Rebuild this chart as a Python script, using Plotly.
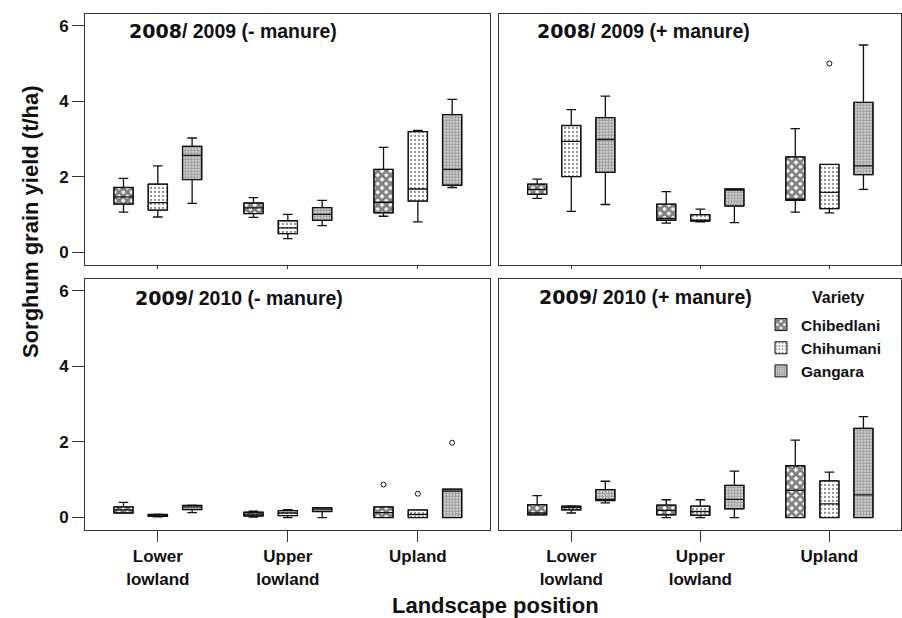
import plotly.graph_objects as go

# ---------------- data ----------------
landscapes = ["Lower lowland", "Upper lowland", "Upland"]
landscape_labels = ["<b>Lower<br>lowland</b>", "<b>Upper<br>lowland</b>", "<b>Upland</b>"]
varieties = ["Chibedlani", "Chihumani", "Gangara"]
panel_years = ["2008", "2008", "2009", "2009"]
panel_rest = ["/ 2009 (- manure)", "/ 2009 (+ manure)", "/ 2010 (- manure)", "/ 2010 (+ manure)"]
y_tick_vals = [0, 2, 4, 6]

# rows = variety (Chibedlani, Chihumani, Gangara); cols = landscape position
# Panel 1: 2008/2009 (- manure)
p1_lo = [[1.07, 0.93, 0.96], [0.94, 0.37, 0.81], [1.30, 0.71, 1.72]]
p1_q1 = [[1.28, 1.03, 1.05], [1.12, 0.50, 1.36], [1.93, 0.85, 1.78]]
p1_med = [[1.47, 1.18, 1.33], [1.32, 0.65, 1.68], [2.57, 1.01, 2.20]]
p1_q3 = [[1.72, 1.31, 2.20], [1.81, 0.84, 3.20], [2.81, 1.19, 3.65]]
p1_hi = [[1.96, 1.45, 2.78], [2.29, 1.01, 3.23], [3.03, 1.38, 4.05]]
p1_out = [[[], [], []], [[], [], []], [[], [], []]]

# Panel 2: 2008/2009 (+ manure)
p2_lo = [[1.43, 0.78, 1.07], [1.09, 0.81, 1.05], [1.27, 0.79, 1.67]]
p2_q1 = [[1.54, 0.85, 1.38], [2.01, 0.83, 1.16], [2.12, 1.23, 2.06]]
p2_med = [[1.67, 0.90, 1.41], [2.94, 0.85, 1.59], [2.99, 1.68, 2.29]]
p2_q3 = [[1.81, 1.28, 2.53], [3.36, 1.00, 2.33], [3.57, 1.68, 3.97]]
p2_hi = [[1.94, 1.61, 3.28], [3.78, 1.15, 2.33], [4.14, 1.68, 5.49]]
p2_out = [[[], [], []], [[], [], [5.00]], [[], [], []]]

# Panel 3: 2009/2010 (- manure)
p3_lo = [[0.12, 0.01, 0.00], [0.02, 0.00, 0.00], [0.13, 0.00, 0.00]]
p3_q1 = [[0.12, 0.04, 0.00], [0.03, 0.05, 0.00], [0.21, 0.16, 0.00]]
p3_med = [[0.20, 0.09, 0.13], [0.05, 0.12, 0.08], [0.28, 0.22, 0.70]]
p3_q3 = [[0.28, 0.14, 0.28], [0.08, 0.18, 0.20], [0.32, 0.26, 0.75]]
p3_hi = [[0.40, 0.17, 0.28], [0.09, 0.21, 0.20], [0.33, 0.26, 0.75]]
p3_out = [[[], [], [0.87]], [[], [], [0.63]], [[], [], [1.98]]]

# Panel 4: 2009/2010 (+ manure)
p4_lo = [[0.07, 0.00, 0.00], [0.12, 0.00, 0.00], [0.39, 0.00, 0.00]]
p4_q1 = [[0.07, 0.07, 0.00], [0.20, 0.06, 0.00], [0.45, 0.23, 0.00]]
p4_med = [[0.12, 0.19, 0.72], [0.26, 0.16, 0.36], [0.48, 0.48, 0.60]]
p4_q3 = [[0.34, 0.33, 1.37], [0.30, 0.30, 0.97], [0.74, 0.85, 2.36]]
p4_hi = [[0.58, 0.47, 2.05], [0.31, 0.47, 1.20], [0.96, 1.23, 2.67]]
p4_out = [[[], [], []], [[], [], []], [[], [], []]]

panels = [
    (p1_lo, p1_q1, p1_med, p1_q3, p1_hi, p1_out),
    (p2_lo, p2_q1, p2_med, p2_q3, p2_hi, p2_out),
    (p3_lo, p3_q1, p3_med, p3_q3, p3_hi, p3_out),
    (p4_lo, p4_q1, p4_med, p4_q3, p4_hi, p4_out),
]

# ---------------- styling ----------------
W, H = 902, 618
FONT = "Liberation Sans, Arial, sans-serif"
patterns = [
    dict(shape="x", size=6, solidity=0.72, fgcolor="#000000", bgcolor="white"),
    dict(shape=".", size=4, solidity=0.25, fgcolor="#222222", bgcolor="white"),
    dict(shape=".", size=3, solidity=0.7, fgcolor="#555555", bgcolor="#e8e8e8"),
]

# panel frames in pixels: (left, right, top, bottom)
frames = [(85, 490, 14, 265), (499, 901, 14, 265), (85, 490, 279, 530), (499, 901, 279, 530)]


def px_dom_x(a, b):
    return [a / W, b / W]


def px_dom_y(top, bottom):
    return [1 - bottom / H, 1 - top / H]


fig = go.Figure()

for k, (lo, q1, med, q3, hi, out) in enumerate(panels):
    xa = "x" if k == 0 else f"x{k + 1}"
    ya = "y" if k == 0 else f"y{k + 1}"
    for v, name in enumerate(varieties):
        fig.add_trace(go.Bar(
            x=landscapes,
            y=[q3[v][i] - q1[v][i] for i in range(3)],
            base=q1[v],
            name=name,
            offsetgroup=name, alignmentgroup=f"p{k}",
            marker=dict(color="white", pattern=patterns[v], line=dict(width=1, color="#111111")),
            showlegend=(k == 0),
            xaxis=xa, yaxis=ya, hoverinfo="skip",
        ))
    for v, name in enumerate(varieties):
        # sample per box: the median (inside fences, never drawn) plus any outliers
        samples = [[med[v][i]] + list(out[v][i]) for i in range(3)]
        fig.add_trace(go.Box(
            x=landscapes,
            y=samples,
            q1=q1[v], median=med[v], q3=q3[v],
            lowerfence=lo[v], upperfence=hi[v],
            name=name,
            offsetgroup=name, alignmentgroup=f"p{k}",
            boxpoints="outliers",
            fillcolor="rgba(0,0,0,0)",
            line=dict(color="#111111", width=1.3),
            marker=dict(symbol="circle-open", size=5, color="#111111",
                        line=dict(width=1, color="#111111")),
            whiskerwidth=0.5,
            showlegend=False,
            xaxis=xa, yaxis=ya, hoverinfo="skip",
        ))

layout = dict(
    width=W, height=H,
    margin=dict(l=0, r=0, t=0, b=0),
    paper_bgcolor="white", plot_bgcolor="white",
    font=dict(family=FONT, color="#111111"),
    barmode="group", bargap=0.208, bargroupgap=0.44,
    boxmode="group", boxgap=0.208, boxgroupgap=0.44,
    showlegend=True,
    legend=dict(
        x=761 / W, y=1 - 308 / H, xanchor="left", yanchor="top",
        font=dict(family=FONT, size=15.5, color="#111111", weight="bold"),
        bgcolor="rgba(0,0,0,0)", itemwidth=30, tracegroupgap=0,
    ),
)

for k, (l, r, t, b) in enumerate(frames):
    xkey = "xaxis" if k == 0 else f"xaxis{k + 1}"
    ykey = "yaxis" if k == 0 else f"yaxis{k + 1}"
    ya = "y" if k == 0 else f"y{k + 1}"
    xa = "x" if k == 0 else f"x{k + 1}"
    bottom_row = k >= 2
    left_col = k % 2 == 0
    layout[xkey] = dict(
        domain=px_dom_x(l, r), anchor=ya, type="category",
        categoryorder="array", categoryarray=landscapes,
        range=[-0.56, 2.555],
        tickvals=landscapes, ticktext=landscape_labels,
        showticklabels=bottom_row,
        ticks="outside", ticklen=11 if bottom_row else 3, tickwidth=1, tickcolor="#333333",
        tickfont=dict(family=FONT, size=17, color="#111111"),
        showline=True, mirror=True, linecolor="#333333", linewidth=1,
        showgrid=False, zeroline=False, fixedrange=True,
    )
    layout[ykey] = dict(
        domain=px_dom_y(t, b), anchor=xa,
        range=[-0.33, 6.31],
        tickvals=y_tick_vals, ticktext=[f"<b>{v}</b>" for v in y_tick_vals],
        showticklabels=left_col,
        ticks="outside" if left_col else "", ticklen=12, tickwidth=1, tickcolor="#333333",
        tickfont=dict(family=FONT, size=17, color="#111111"),
        showline=True, mirror=True, linecolor="#333333", linewidth=1,
        showgrid=False, zeroline=False, fixedrange=True,
    )

fig.update_layout(**layout)

# panel titles
title_pos = [(127, 31), (535, 31), (133, 298), (537, 297)]
for k, (tx, ty) in enumerate(title_pos):
    fig.add_annotation(
        x=tx / W, y=1 - ty / H, xref="paper", yref="paper",
        xanchor="left", yanchor="middle", showarrow=False,
        text=(f"<span style='font-family:DejaVu Sans;font-size:19px'><b>{panel_years[k]}</b></span>"
              f"<b>{panel_rest[k]}</b>"),
        font=dict(family=FONT, size=19.5, color="#111111"),
    )

# legend title
fig.add_annotation(x=838 / W, y=1 - 297 / H, xref="paper", yref="paper",
                   xanchor="center", yanchor="middle", showarrow=False,
                   text="<b>Variety</b>", font=dict(family=FONT, size=16, color="#111111"))

# axis titles
fig.add_annotation(x=495 / W, y=1 - 605 / H, xref="paper", yref="paper",
                   xanchor="center", yanchor="middle", showarrow=False,
                   text="<b>Landscape position</b>", font=dict(family=FONT, size=22, color="#111111"))
fig.add_annotation(x=30 / W, y=1 - 222 / H, xref="paper", yref="paper",
                   xanchor="center", yanchor="middle", showarrow=False, textangle=-90,
                   text="<b>Sorghum grain yield (t/ha)</b>", font=dict(family=FONT, size=22, color="#111111"))

fig.write_html("out.html")
